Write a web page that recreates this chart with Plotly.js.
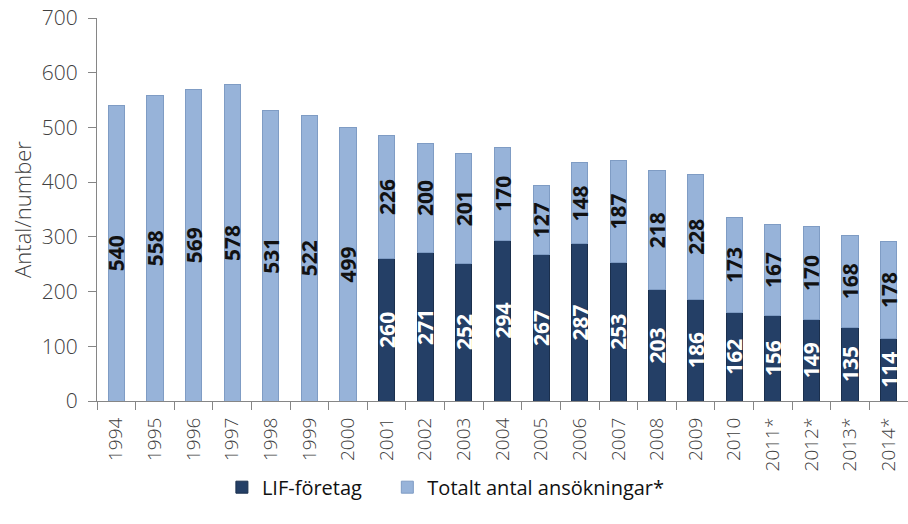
<!DOCTYPE html>
<html>
<head>
<meta charset="utf-8">
<script src="https://cdn.plot.ly/plotly-3.0.1.min.js"></script>
<style>html,body{margin:0;padding:0;background:#fff;}#chart{width:908px;height:524px;}</style>
</head>
<body>
<div id="chart"></div>
<script>
const years = ["1994","1995","1996","1997","1998","1999","2000","2001","2002","2003","2004","2005","2006","2007","2008","2009","2010","2011*","2012*","2013*","2014*"];
const lifForetag = [null,null,null,null,null,null,null,260,271,252,294,267,287,253,203,186,162,156,149,135,114];
const totaltAntal = [540,558,569,578,531,522,499,226,200,201,170,127,148,187,218,228,173,167,170,168,178];
const yTicks = [0,100,200,300,400,500,600,700];

const fontFam = "'Open Sans', 'Noto Sans', sans-serif";
const traces = [
  {
    type: 'bar', name: 'LIF-företag', x: years, y: lifForetag, legend: 'legend',
    marker: {color: '#243f66', line: {color: '#1a2f4d', width: 1}},
    text: lifForetag.map(v => v == null ? '' : String(v)),
    textposition: 'inside', insidetextanchor: 'middle', textangle: -90,
    constraintext: 'none',
    insidetextfont: {family: fontFam, size: 21, color: '#ffffff', weight: 'bold'},
    hoverinfo: 'skip'
  },
  {
    type: 'bar', name: 'Totalt antal ansökningar*', x: years, y: totaltAntal, legend: 'legend2',
    marker: {color: '#97b3d9', line: {color: '#7f9cc4', width: 1}},
    text: totaltAntal.map(v => String(v)),
    textposition: 'inside', insidetextanchor: 'middle', textangle: -90,
    constraintext: 'none',
    insidetextfont: {family: fontFam, size: 21, color: '#111111', weight: 'bold'},
    hoverinfo: 'skip'
  }
];

const legendCommon = {orientation: 'h', xanchor: 'left', y: -0.225, yanchor: 'middle',
  font: {size: 20, color: '#111'}, itemwidth: 30, bgcolor: 'rgba(0,0,0,0)'};

const layout = {
  width: 908, height: 524,
  margin: {l: 97, r: 0, t: 18, b: 123},
  barmode: 'stack',
  bargap: 0.58,
  paper_bgcolor: '#fff', plot_bgcolor: '#fff',
  font: {family: fontFam, color: '#404040'},
  showlegend: true,
  legend: Object.assign({}, legendCommon, {x: 0.154}),
  legend2: Object.assign({}, legendCommon, {x: 0.358}),
  xaxis: {
    type: 'category', tickangle: -90, tickfont: {size: 19, color: '#404040', weight: 300},
    showline: true, linecolor: '#868686', linewidth: 1,
    ticks: 'outside', ticklen: 8, tickcolor: '#868686', tickson: 'boundaries',
    ticklabelstandoff: 8,
    showgrid: false, zeroline: false
  },
  yaxis: {
    range: [0, 700], tickvals: yTicks, ticktext: yTicks.map(String),
    tickfont: {size: 21, color: '#404040', weight: 300},
    showline: true, linecolor: '#868686', linewidth: 1,
    ticks: 'outside', ticklen: 8, tickcolor: '#868686',
    ticklabelstandoff: 6,
    showgrid: false, zeroline: false,
    title: {text: 'Antal/number', font: {size: 22, color: '#404040', weight: 300}, standoff: 4}
  }
};

Plotly.newPlot('chart', traces, layout, {displayModeBar: false, staticPlot: true});
</script>
</body>
</html>
